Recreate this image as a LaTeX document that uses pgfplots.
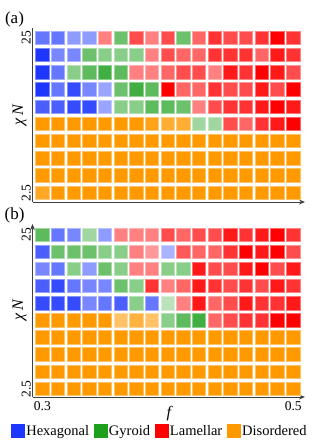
\documentclass[border=0pt]{standalone}
\usepackage{fontspec}
\setmainfont{Liberation Serif}
\usepackage{pgfplots}
\usepackage{pgfplotstable}
\pgfplotsset{compat=1.18}
\usetikzlibrary{arrows.meta}
\definecolor{hexc}{RGB}{30,55,255}
\definecolor{gyrc}{RGB}{30,160,30}
\definecolor{lamc}{RGB}{255,0,0}
\definecolor{disc}{RGB}{255,153,0}

% x = column index (1..17 <-> f = 0.3..0.5), y = chiN, p = phase (0 H, 1 G, 2 L, 3 D), a = intensity
\pgfplotstableread{
x y p a
1 25 0 .68
2 25 0 .68
3 25 0 .5
4 25 0 .5
5 25 2 .5
6 25 1 .65
7 25 2 .7
8 25 2 .5
9 25 2 .7
10 25 1 .65
11 25 2 .6
12 25 2 .8
13 25 2 .7
14 25 2 .7
15 25 2 .8
16 25 2 1
17 25 2 .8
1 22.5 0 1
2 22.5 0 .6
3 22.5 0 .6
4 22.5 1 .65
5 22.5 1 .53
6 22.5 1 .53
7 22.5 1 .53
8 22.5 2 .5
9 22.5 2 .7
10 22.5 2 .6
11 22.5 2 .6
12 22.5 2 .8
13 22.5 2 .8
14 22.5 2 .8
15 22.5 2 .6
16 22.5 2 .9
17 22.5 2 .8
1 20 0 1
2 20 0 .68
3 20 1 .53
4 20 1 .72
5 20 1 .85
6 20 1 .72
7 20 2 .5
8 20 2 .5
9 20 2 .6
10 20 2 .7
11 20 2 .7
12 20 2 .5
13 20 2 .9
14 20 2 .8
15 20 2 1
16 20 2 .9
17 20 2 .7
1 17.5 0 1
2 17.5 0 .68
3 17.5 0 .9
4 17.5 0 .6
5 17.5 0 .45
6 17.5 1 .65
7 17.5 1 .85
8 17.5 1 .72
9 17.5 2 1
10 17.5 2 .6
11 17.5 2 .6
12 17.5 2 .8
13 17.5 2 .7
14 17.5 2 .7
15 17.5 2 .9
16 17.5 2 .7
17 17.5 2 1
1 15 0 .8
2 15 0 .8
3 15 0 .9
4 15 0 .9
5 15 0 .45
6 15 1 .53
7 15 1 .53
8 15 1 .72
9 15 1 .72
10 15 1 .65
11 15 2 .5
12 15 2 .7
13 15 2 .8
14 15 2 .8
15 15 2 .9
16 15 2 1
17 15 2 .9
1 12.5 3 1
2 12.5 3 1
3 12.5 3 1
4 12.5 3 1
5 12.5 3 1
6 12.5 3 1
7 12.5 3 1
8 12.5 3 .9
9 12.5 3 .8
10 12.5 3 .8
11 12.5 1 .42
12 12.5 1 .42
13 12.5 2 .7
14 12.5 2 .6
15 12.5 2 .8
16 12.5 2 .9
17 12.5 2 1
1 10 3 1
2 10 3 1
3 10 3 1
4 10 3 1
5 10 3 1
6 10 3 1
7 10 3 1
8 10 3 1
9 10 3 1
10 10 3 1
11 10 3 1
12 10 3 1
13 10 3 1
14 10 3 1
15 10 3 1
16 10 3 1
17 10 3 1
1 7.5 3 1
2 7.5 3 1
3 7.5 3 1
4 7.5 3 1
5 7.5 3 1
6 7.5 3 1
7 7.5 3 1
8 7.5 3 1
9 7.5 3 1
10 7.5 3 1
11 7.5 3 1
12 7.5 3 1
13 7.5 3 1
14 7.5 3 1
15 7.5 3 1
16 7.5 3 1
17 7.5 3 1
1 5 3 1
2 5 3 1
3 5 3 1
4 5 3 1
5 5 3 1
6 5 3 1
7 5 3 1
8 5 3 1
9 5 3 1
10 5 3 1
11 5 3 1
12 5 3 1
13 5 3 1
14 5 3 1
15 5 3 1
16 5 3 1
17 5 3 1
1 2.5 3 .85
2 2.5 3 1
3 2.5 3 1
4 2.5 3 1
5 2.5 3 1
6 2.5 3 1
7 2.5 3 1
8 2.5 3 1
9 2.5 3 1
10 2.5 3 1
11 2.5 3 1
12 2.5 3 1
13 2.5 3 1
14 2.5 3 1
15 2.5 3 1
16 2.5 3 1
17 2.5 3 1
}\tablea

\pgfplotstableread{
x y p a
1 25 1 .72
2 25 0 .68
3 25 0 .6
4 25 1 .42
5 25 0 .5
6 25 2 .5
7 25 2 .5
8 25 2 .5
9 25 2 .7
10 25 2 .6
11 25 2 .7
12 25 2 .7
13 25 2 .9
14 25 2 .8
15 25 2 .9
16 25 2 1
17 25 2 .8
1 22.5 0 .8
2 22.5 1 .65
3 22.5 1 .65
4 22.5 1 .65
5 22.5 1 .53
6 22.5 1 .53
7 22.5 2 .5
8 22.5 2 .4
9 22.5 0 .38
10 22.5 2 .65
11 22.5 2 .6
12 22.5 2 .6
13 22.5 2 .8
14 22.5 2 1
15 22.5 2 .9
16 22.5 2 1
17 22.5 2 .7
1 20 0 .6
2 20 0 .68
3 20 1 .53
4 20 0 .5
5 20 1 .65
6 20 1 .53
7 20 2 .5
8 20 2 .5
9 20 1 .53
10 20 1 .53
11 20 2 .9
12 20 2 .7
13 20 2 .7
14 20 2 .9
15 20 2 1
16 20 2 .7
17 20 2 .9
1 17.5 0 .8
2 17.5 0 .9
3 17.5 0 .68
4 17.5 0 .6
5 17.5 0 .6
6 17.5 1 .65
7 17.5 1 .53
8 17.5 2 .8
9 17.5 2 .5
10 17.5 2 .6
11 17.5 2 .9
12 17.5 2 .8
13 17.5 2 .7
14 17.5 2 .8
15 17.5 2 .7
16 17.5 2 .9
17 17.5 2 .8
1 15 0 .9
2 15 0 .9
3 15 0 .9
4 15 0 .6
5 15 0 .68
6 15 0 .8
7 15 1 .53
8 15 0 .68
9 15 1 .3
10 15 2 .5
11 15 2 .9
12 15 2 .6
13 15 2 .7
14 15 2 .9
15 15 2 .8
16 15 2 .8
17 15 2 .9
1 12.5 3 1
2 12.5 3 1
3 12.5 3 1
4 12.5 3 1
5 12.5 3 1
6 12.5 3 .6
7 12.5 3 .75
8 12.5 3 .6
9 12.5 1 .53
10 12.5 1 .72
11 12.5 1 .85
12 12.5 2 .6
13 12.5 2 .7
14 12.5 2 .8
15 12.5 2 .8
16 12.5 2 1
17 12.5 2 1
1 10 3 1
2 10 3 1
3 10 3 1
4 10 3 1
5 10 3 1
6 10 3 1
7 10 3 1
8 10 3 1
9 10 3 1
10 10 3 1
11 10 3 1
12 10 3 1
13 10 3 1
14 10 3 1
15 10 3 1
16 10 3 1
17 10 3 1
1 7.5 3 1
2 7.5 3 1
3 7.5 3 1
4 7.5 3 1
5 7.5 3 1
6 7.5 3 1
7 7.5 3 1
8 7.5 3 1
9 7.5 3 1
10 7.5 3 1
11 7.5 3 1
12 7.5 3 1
13 7.5 3 1
14 7.5 3 1
15 7.5 3 1
16 7.5 3 1
17 7.5 3 1
1 5 3 1
2 5 3 1
3 5 3 1
4 5 3 1
5 5 3 1
6 5 3 1
7 5 3 1
8 5 3 1
9 5 3 1
10 5 3 1
11 5 3 1
12 5 3 1
13 5 3 1
14 5 3 1
15 5 3 1
16 5 3 1
17 5 3 1
1 2.5 3 1
2 2.5 3 1
3 2.5 3 1
4 2.5 3 1
5 2.5 3 1
6 2.5 3 1
7 2.5 3 1
8 2.5 3 1
9 2.5 3 1
10 2.5 3 1
11 2.5 3 1
12 2.5 3 1
13 2.5 3 1
14 2.5 3 1
15 2.5 3 1
16 2.5 3 1
17 2.5 3 1
}\tableb

\pgfplotsset{
  cells/.style={
    only marks, scatter, mark=square*, mark size=6.7pt, forget plot,
    point meta=\thisrow{a},
    visualization depends on={\thisrow{p} \as \cellp},
    visualization depends on={\thisrow{a} \as \cella},
    scatter/@pre marker code/.code={%
      \pgfmathtruncatemacro\cellpi{\cellp}%
      \pgfmathtruncatemacro\cellfa{round(100*\cella)}%
      \pgfmathtruncatemacro\cellda{round(60*\cella)}%
      \ifcase\cellpi\relax \def\cellc{hexc}\or\def\cellc{gyrc}\or\def\cellc{lamc}\else\def\cellc{disc}\fi
      \colorlet{cellfill}{\cellc!\cellfa!white}%
      \colorlet{celldraw}{\cellc!\cellda!white}%
      \scope[fill=cellfill, draw=celldraw, line width=0.9bp]%
    },
    scatter/@post marker code/.code={\endscope},
  },
  common/.style={
    scale only axis, anchor=south west, width=272.5bp,
    xmin=0.369, xmax=17.746,
    axis lines=left,
    axis line style={black!75, line width=1bp},
    x axis line style={-{Stealth[length=6bp,width=5bp]}},
    ytick={2.5,25}, yticklabels={2.5,25},
    major tick length=0pt,
    /pgf/number format/assume math mode=true,
    tick label style={font=\fontsize{13.5bp}{15bp}\selectfont},
    yticklabel style={rotate=90, anchor=south, inner sep=1.5bp},
    ylabel={\itshape χ\,N},
    ylabel style={at={(axis description cs:-0.021,0.5)}, anchor=south, inner sep=0pt, font=\fontsize{16bp}{18bp}\selectfont},
    clip=false,
  },
}

\begin{document}
\begin{tikzpicture}
\useasboundingbox (0,0) rectangle (317bp,-440bp);
\begin{axis}[common, at={(32.5bp,-202bp)}, height=174bp, ymin=1.16, ymax=26.45,
  xtick=\empty, y axis line style={-}]
\addplot[cells] table[x=x,y=y] {\tablea};
\end{axis}
\begin{axis}[common, at={(32.5bp,-397bp)}, height=173bp, ymin=1.29, ymax=26.6,
  xtick={1,17}, xticklabels={0.3,0.5}, xticklabel style={yshift=-1bp},
  y axis line style={-{Stealth[length=6bp,width=5bp]}},
  xlabel={\itshape f},
  xlabel style={at={(axis description cs:0.5,0)}, anchor=north, yshift=-6bp, font=\fontsize{16bp}{18bp}\selectfont},
  legend style={at={(0.467,-0.197)}, anchor=center, draw=none, fill=none, legend columns=4,
    font=\fontsize{14.5bp}{16bp}\selectfont, inner sep=0pt, nodes={inner sep=1.5bp},
    /tikz/every even column/.append style={column sep=3.5bp}},
  legend image code/.code={\fill[#1] (0bp,-6.5bp) rectangle (13bp,6.5bp);},
]
\addplot[cells] table[x=x,y=y] {\tableb};
\addlegendimage{hexc}\addlegendentry{Hexagonal}
\addlegendimage{gyrc}\addlegendentry{Gyroid}
\addlegendimage{lamc}\addlegendentry{Lamellar}
\addlegendimage{disc}\addlegendentry{Disordered}
\end{axis}
\node[font=\fontsize{17bp}{19bp}\selectfont] at (14.5bp,-19bp) {(a)};
\node[font=\fontsize{17bp}{19bp}\selectfont] at (14.5bp,-215bp) {(b)};
\end{tikzpicture}
\end{document}
